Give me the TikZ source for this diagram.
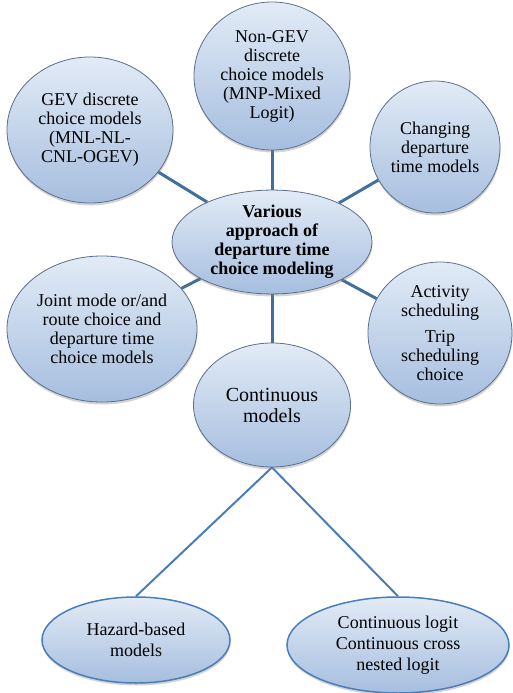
\documentclass[tikz,border=0pt]{standalone}
\usepackage{fontspec}
\setmainfont{Liberation Serif}
\usetikzlibrary{shapes.geometric,shadows,backgrounds}
\definecolor{bubbletop}{HTML}{E2EBF6}
\definecolor{bubblebot}{HTML}{A6BEDF}
\definecolor{bubbleline}{HTML}{5B6F8A}
\definecolor{leafline}{HTML}{4A7EBB}
\definecolor{spokecol}{HTML}{41709E}
\begin{document}
\begin{tikzpicture}[x=1pt,y=-1pt,
  bubble/.style={ellipse, draw=bubbleline, line width=0.8pt,
    top color=bubbletop, bottom color=bubblebot, align=center, inner sep=0pt,
    font=\fontsize{18}{19}\selectfont,
    drop shadow={shadow xshift=0.5pt, shadow yshift=-2.5pt, opacity=0.35}},
  leaf/.style={bubble, draw=leafline, line width=1.5pt, font=\fontsize{18}{21}\selectfont},
  spoke/.style={draw=spokecol, line width=3pt},
  branch/.style={draw=leafline, line width=2pt}]
\useasboundingbox (0,0) rectangle (512,693);

\node[bubble, minimum width=166pt, minimum height=146pt] (gev) at (90,130)
  {GEV discrete\\choice models\\(MNL-NL-\\CNL-OGEV)};
\node[bubble, minimum width=156pt, minimum height=148pt] (nongev) at (272,76)
  {Non-GEV\\discrete\\choice models\\(MNP-Mixed\\Logit)};
\node[bubble, minimum width=130pt, minimum height=132pt] (changing) at (435,147)
  {Changing\\departure\\time models};
\node[bubble, minimum width=200pt, minimum height=97pt, font=\fontsize{18}{19}\selectfont\bfseries] (centre) at (272,242)
  {Various\\approach of\\departure time\\choice modeling};
\node[bubble, minimum width=190pt, minimum height=146pt] (joint) at (102,329)
  {Joint mode or/and\\route choice and\\departure time\\choice models};
\node[bubble, minimum width=144pt, minimum height=142pt] (activity) at (440,333)
  {Activity\\scheduling\\[7pt]Trip\\scheduling\\choice};
\node[bubble, minimum width=157pt, minimum height=124pt, font=\fontsize{20}{21}\selectfont] (cont) at (272,405)
  {Continuous\\models};
\node[leaf, minimum width=188pt, minimum height=86pt] (hazard) at (136,640)
  {Hazard-based\\models};
\node[leaf, minimum width=222pt, minimum height=96pt] (clogit) at (398,645)
  {Continuous logit\\Continuous cross\\nested logit};

\begin{scope}[on background layer]
\path[spoke] (centre) -- (gev);
\path[spoke] (centre) -- (nongev);
\path[spoke] (centre) -- (changing);
\path[spoke] (centre) -- (joint);
\path[spoke] (centre) -- (activity);
\path[spoke] (centre) -- (cont);

\path[branch] (cont.south) -- (hazard.north);
\path[branch] (cont.south) -- (clogit.north);
\end{scope}
\end{tikzpicture}
\end{document}
